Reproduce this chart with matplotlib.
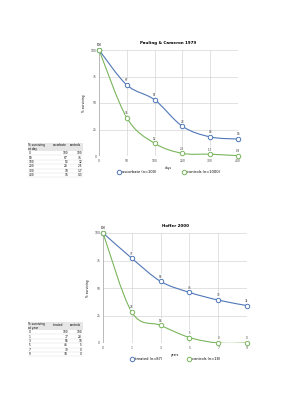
import matplotlib
matplotlib.use('Agg')
import matplotlib.pyplot as plt
from matplotlib.path import Path
from matplotlib.patches import PathPatch, Rectangle

# Pauling & Cameron 1979
pc_days = ['0', '50', '100', '200', '300', '400']
pc_ascorbate = [100, 67, 53, 28, 18, 16]
pc_controls = [100, 36, 12, 2.5, 1.7, 0.3]
pc_labels_asc = ['100', '67', '53', '28', '18', '16']
pc_labels_ctl = ['100', '36', '12', '2.5', '1.7', '0.3']

# Hoffer 2000
hf_years = ['0', '1', '3', '5', '7', '9']
hf_treated = [100, 77, 56, 46, 39, 34]
hf_controls = [100, 28, 16, 5, 0, 0]

BLUE = '#4f77b8'
GREEN = '#7ab55c'


def smoothPath(xs, ys):
     # catmull-rom style bezier through the points (like excel "smooth line")
     verts = [(xs[0], ys[0])]
     codes = [Path.MOVETO]
     n = len(xs)
     for i in range(n - 1):
          x0, y0 = (xs[i - 1], ys[i - 1]) if i > 0 else (xs[i], ys[i])
          x1, y1 = xs[i], ys[i]
          x2, y2 = xs[i + 1], ys[i + 1]
          x3, y3 = (xs[i + 2], ys[i + 2]) if i + 2 < n else (x2, y2)
          c1 = (x1 + (x2 - x0) / 6.0, y1 + (y2 - y0) / 6.0)
          c2 = (x2 - (x3 - x1) / 6.0, y2 - (y3 - y1) / 6.0)
          verts += [c1, c2, (x2, y2)]
          codes += [Path.CURVE4] * 3
     return Path(verts, codes)


def drawChart(ax, cats, series, colors, names, labels, title, xlabel):
     xs = list(range(len(cats)))
     for vals, col, nm, lab in zip(series, colors, names, labels):
          ax.add_patch(PathPatch(smoothPath(xs, vals), fill=False,
                                 edgecolor=col, lw=0.8, zorder=3))
          ax.plot(xs, vals, 'o', ms=3.2, mfc='white', mec=col, mew=0.7,
                  label=nm, zorder=4, clip_on=False)
          for x, v, t in zip(xs, vals, lab):
               ax.text(x, v + 2.5, t, fontsize=2.0, ha='center',
                       va='bottom', color='#333333', zorder=5,
                       clip_on=False,
                       bbox=dict(boxstyle='square,pad=0.1', fc='white',
                                 ec='none', alpha=0.7))
     ax.set_xlim(0, len(cats) - 1)
     ax.set_ylim(0, 100)
     ax.set_xticks(xs)
     ax.set_xticklabels(cats)
     ax.set_yticks([0, 25, 50, 75, 100])
     ax.grid(True, color='#cccccc', lw=0.4)
     ax.set_axisbelow(True)
     for s in ax.spines.values():
          s.set_visible(False)
     ax.axhline(0, color='#aaaaaa', lw=0.5, zorder=2)
     ax.axvline(0, color='#aaaaaa', lw=0.5, zorder=2)
     ax.tick_params(labelsize=2.2, length=0, pad=2, colors='#444444')
     ax.set_title(title, fontsize=2.9, fontweight='bold', pad=4)
     ax.set_xlabel(xlabel, fontsize=2.2, labelpad=2)
     ax.set_ylabel('% surviving', fontsize=2.2, labelpad=3)
     ax.legend(loc='upper center', bbox_to_anchor=(0.5, -0.1), ncol=2,
               frameon=False, fontsize=2.6, handletextpad=0.3,
               columnspacing=7, handlelength=1)


def drawTable(fig, x0, ytop, header, rows, cols):
     W, H = 283.0, 400.0
     colx = [x0, x0 + 24, x0 + 41]
     colw = [24, 17, 14]
     hh = 8
     rh = 4.4
     for cx, cw in zip(colx, colw):
          fig.patches.append(Rectangle((cx / W, 1 - (ytop + hh) / H),
                                       (cw - 0.5) / W, hh / H,
                                       transform=fig.transFigure,
                                       fc='#e6e6e6', ec='none'))
     fig.text((x0 + 0.5) / W, 1 - (ytop + hh / 2) / H, header,
              fontsize=2.1, va='center', ha='left', linespacing=1.0)
     fig.text((colx[1] + 1) / W, 1 - (ytop + 2.5) / H, cols[0],
              fontsize=2.1, va='center', ha='left')
     fig.text((colx[2] + 1) / W, 1 - (ytop + 2.5) / H, cols[1],
              fontsize=2.1, va='center', ha='left')
     for i, r in enumerate(rows):
          yc = ytop + hh + rh * (i + 0.5)
          fig.text((x0 + 0.5) / W, 1 - yc / H, r[0], fontsize=2.1,
                   va='center', ha='left')
          fig.text((colx[1] + colw[1] - 1) / W, 1 - yc / H, r[1],
                   fontsize=2.1, va='center', ha='right')
          fig.text((colx[2] + colw[2] - 1) / W, 1 - yc / H, r[2],
                   fontsize=2.1, va='center', ha='right')
          fig.lines.append(plt.Line2D([x0 / W, (x0 + 55) / W],
                                      [1 - (yc + rh / 2) / H] * 2,
                                      transform=fig.transFigure,
                                      color='#dddddd', lw=0.3))


fig = plt.figure(figsize=(2.83, 4.0), dpi=100)
fig.patch.set_facecolor('white')

ax1 = fig.add_axes([0.350, 0.610, 0.491, 0.265])
drawChart(ax1, pc_days, [pc_ascorbate, pc_controls], [BLUE, GREEN],
          ['ascorbate (n=100)', 'controls (n=1000)'],
          [pc_labels_asc, pc_labels_ctl], 'Pauling & Cameron 1979', 'days')

ax2 = fig.add_axes([0.364, 0.1425, 0.509, 0.275])
drawChart(ax2, hf_years, [hf_treated, hf_controls], [BLUE, GREEN],
          ['treated (n=87)', 'controls (n=18)'],
          [[str(v) for v in hf_treated], [str(v) for v in hf_controls]],
          'Hoffer 2000', 'years')

drawTable(fig, 28, 143, '% surviving\nat day',
          list(zip(pc_days, pc_labels_asc, pc_labels_ctl)),
          ['ascorbate', 'controls'])
drawTable(fig, 28, 322, '% surviving\nat year',
          list(zip(hf_years, [str(v) for v in hf_treated],
                   [str(v) for v in hf_controls])),
          ['treated', 'controls'])

fig.savefig('out.png', dpi=100)
